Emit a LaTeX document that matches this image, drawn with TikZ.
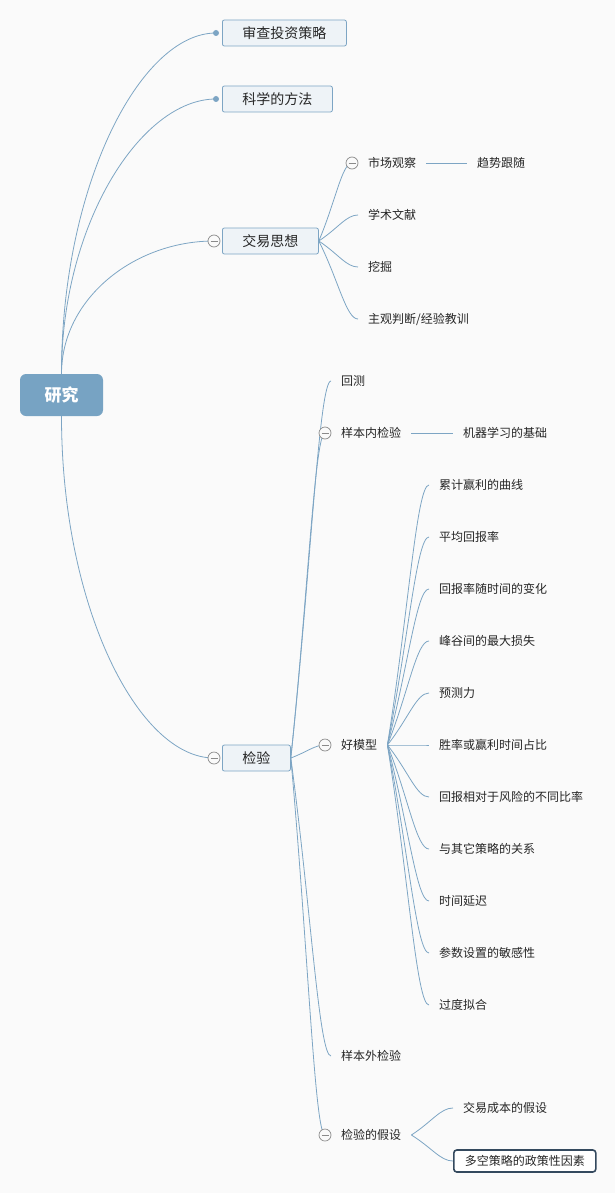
\documentclass[tikz,border=0pt]{standalone}
\usepackage{fontspec}
\usepackage{tikz}
\usetikzlibrary{positioning,calc,backgrounds}
\newfontfamily\cjk{Noto Sans CJK SC}
\definecolor{bgc}{HTML}{FAFAFA}
\definecolor{linec}{HTML}{7DA5C4}
\definecolor{rootc}{HTML}{77A3C3}
\definecolor{boxc}{HTML}{EEF3F7}
\definecolor{foldc}{HTML}{8A8A8A}
\definecolor{darkc}{HTML}{34495E}
\newcommand{\leafsize}{\cjk\fontsize{12}{14}\selectfont}
\newcommand{\boxsize}{\cjk\fontsize{14}{16}\selectfont}

\begin{document}
\begin{tikzpicture}[x=1pt,y=-1pt,
  root/.style={rounded corners=6pt,fill=rootc,text=white,minimum width=83pt,minimum height=42pt,font=\cjk\fontsize{17}{20}\selectfont\bfseries},
  topic/.style={anchor=west,rounded corners=2pt,draw=linec,fill=boxc,line width=0.8pt,inner xsep=20pt,inner ysep=0pt,minimum height=26pt,font=\boxsize,text=black!85},
  leaf/.style={anchor=west,inner xsep=10pt,inner ysep=3pt,font=\leafsize,text=black!85},
  fold/.style={circle,draw=foldc,fill=bgc,minimum size=12pt,inner sep=0pt,line width=0.7pt,
    path picture={\draw[foldc,line width=0.7pt] ([xshift=2.5pt]path picture bounding box.west) -- ([xshift=-2.5pt]path picture bounding box.east);}},
  dot/.style={circle,fill=linec,minimum size=6pt,inner sep=0pt},
  link/.style={draw=linec,line width=0.8pt},
  branch/.style={to path={let \p1=(\tikztostart), \p2=(\tikztotarget) in
    .. controls ($(\p1)!0.5!(\p2)$) and ({\x2-0.3*(\x2-\x1)},\y2) .. (\p2) \tikztonodes}}]
\useasboundingbox (0,0) rectangle (615,1193);
\draw(61.5,395) node[root] (yj) {研究};
\draw(222,33) node[topic] (sc) {审查投资策略};
\draw(216,33) node[dot] (d1) {};
\draw(222,99) node[topic] (kx) {科学的方法};
\draw(216,99) node[dot] (d2) {};
\draw(222,241) node[topic] (jy) {交易思想};
\draw(214,241) node[fold] (f1) {};
\draw(222,758) node[topic] (jyan) {检验};
\draw(214,758) node[fold] (f2) {};
\draw(352,163) node[fold] (f3) {};
\draw(358,163) node[leaf] (sc1) {市场观察};
\draw(467,163) node[leaf] (qs) {趋势跟随};
\draw(358,215) node[leaf] (xs) {学术文献};
\draw(358,267) node[leaf] (wj) {挖掘};
\draw(358,319) node[leaf] (zg) {主观判断/经验教训};
\draw(331,381) node[leaf] (hc) {回测};
\draw(325,433) node[fold] (f4) {};
\draw(331,433) node[leaf] (ybn) {样本内检验};
\draw(453,433) node[leaf] (jq) {机器学习的基础};
\draw(325,745) node[fold] (f5) {};
\draw(331,745) node[leaf] (hm) {好模型};
\draw(331,1056) node[leaf] (ybw) {样本外检验};
\draw(325,1135) node[fold] (f6) {};
\draw(331,1135) node[leaf] (js) {检验的假设};
\foreach \t [count=\i from 0] in {累计赢利的曲线,平均回报率,回报率随时间的变化,峰谷间的最大损失,预测力,胜率或赢利时间占比,回报相对于风险的不同比率,与其它策略的关系,时间延迟,参数设置的敏感性,过度拟合}
  \draw(429,485+52*\i) node[leaf] (m\i) {\t};
\draw(453,1108) node[leaf] (cb) {交易成本的假设};
\draw(453,1161) node[leaf,draw=darkc,line width=1.6pt,rounded corners=3pt,fill=white,inner xsep=11pt,minimum height=22pt] (dk) {多空策略的政策性因素};
\begin{scope}[on background layer]
\fill[bgc] (0,0) rectangle (615,1193);
\draw[link] (yj.north) .. controls +(0,-188) and +(-76,0) .. (d1.center);
\draw[link] (yj.north) .. controls +(0,-150) and +(-75,0) .. (d2.center);
\draw[link] (yj.north) .. controls +(0,-75) and +(-80,0) .. (f1.center);
\draw[link] (yj.south) .. controls +(0,190) and +(-76,0) .. (f2.center);
\draw[link] (jy.east) to[branch] (f3.center);
\draw[link] (jy.east) to[branch] (xs.west);
\draw[link] (jy.east) to[branch] (wj.west);
\draw[link] (jy.east) to[branch] (zg.west);
\draw[link] (sc1.east) -- (qs.west);
\draw[link] (jyan.east) to[branch] (hc.west);
\draw[link] (jyan.east) to[branch] (f4.center);
\draw[link] (jyan.east) to[branch] (f5.center);
\draw[link] (jyan.east) to[branch] (ybw.west);
\draw[link] (jyan.east) to[branch] (f6.center);
\draw[link] (ybn.east) -- (jq.west);
\foreach \i in {0,...,10}
  \draw[link] (hm.east) to[branch] (m\i.west);
\draw[link] (js.east) to[branch] (cb.west);
\draw[link] (js.east) to[branch] (dk.west);
\end{scope}
\end{tikzpicture}
\end{document}
